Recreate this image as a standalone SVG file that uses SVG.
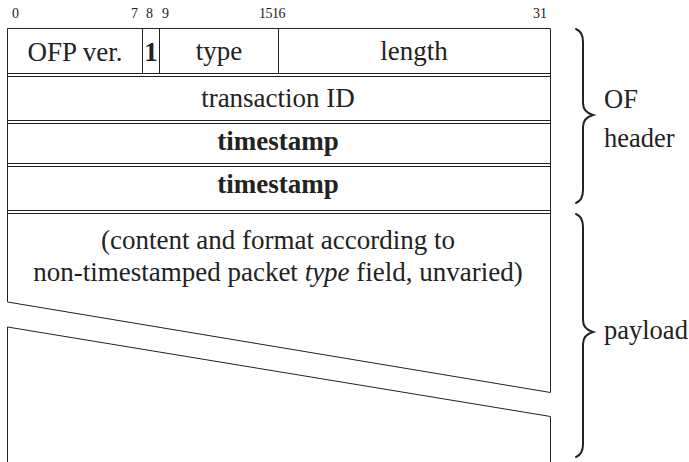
<svg xmlns="http://www.w3.org/2000/svg" width="689" height="462" viewBox="0 0 689 462">
<style>
  .ln{stroke:#222;stroke-width:1;fill:none}
  .br{stroke:#222;stroke-width:2;fill:none;stroke-linecap:round}
  text{font-family:"Liberation Serif","Times New Roman",serif;fill:#222}
  .bit{font-size:14px}
  .f{font-size:27px;text-anchor:middle}
  .b{font-weight:bold}
  .side{font-size:26.5px}
</style>
<rect width="689" height="462" fill="#fff"/>
<g id="bits">
  <text class="bit" x="12" y="18">0</text>
  <text class="bit" x="131" y="18">7</text>
  <text class="bit" x="146" y="18">8</text>
  <text class="bit" x="162" y="18">9</text>
  <text class="bit" x="259" y="18" letter-spacing="-0.5">1516</text>
  <text class="bit" x="533" y="18">31</text>
</g>
<g id="connectors">
  <path class="ln" d="M7.5 28.5H550.5M7.5 73.5H550.5M7.5 76.5H550.5M7.5 120.5H550.5M7.5 123.5H550.5M7.5 163.5H550.5M7.5 166.5H550.5M7.5 210.5H550.5M7.5 213.5H550.5"/>
  <path class="ln" d="M142.5 28.5V73.5M159.5 28.5V73.5M278.5 28.5V73.5"/>
  <path class="ln" d="M7.5 28.5V302M7.5 327V462M550.5 28.5V392.5M550.5 416.5V462"/>
  <path class="ln" d="M7.5 302L550.5 392.5M7.5 327L550.5 416.5"/>
</g>
<g id="row1">
  <text class="f" x="75" y="61">OFP ver.</text>
  <text class="f b" x="151" y="61">1</text>
  <text class="f" x="219" y="60">type</text>
  <text class="f" x="414" y="60">length</text>
</g>
<g id="transaction">
  <text class="f" x="278" y="107">transaction ID</text>
</g>
<g id="timestamp1">
  <text class="f b" x="278" y="150">timestamp</text>
</g>
<g id="timestamp2">
  <text class="f b" x="278" y="193">timestamp</text>
</g>
<g id="payload">
  <text class="f" x="278" y="249">(content and format according to</text>
  <text class="f" x="278" y="281">non-timestamped packet <tspan font-style="italic">type</tspan> field, unvaried)</text>
</g>
<g id="header-brace">
  <path class="br" d="M576 29C581 31 583 35 583 42V103C583 109 586 113 593 115C586 117 583 121 583 127V190C583 197 581 201 576 203"/>
  <text class="side" x="604" y="108">OF</text>
  <text class="side" x="604" y="147">header</text>
</g>
<g id="payload-brace">
  <path class="br" d="M576 214C581 216 583 220 583 227V320C583 326 586 330 593 332C586 334 583 338 583 344V444C583 451 581 455 576 457"/>
  <text class="side" x="604" y="339">payload</text>
</g>
</svg>
